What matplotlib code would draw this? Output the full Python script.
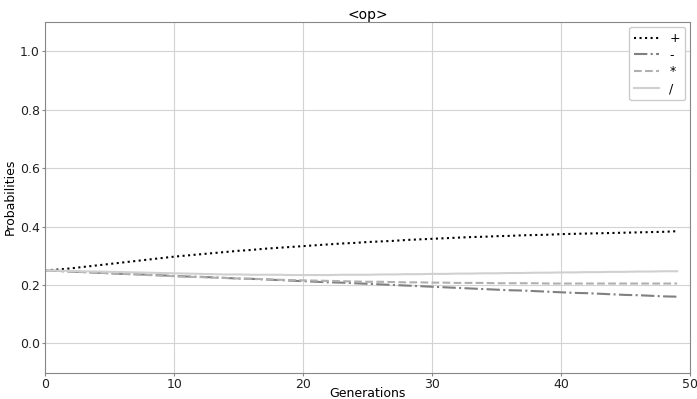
import matplotlib
matplotlib.use("Agg")
import matplotlib.pyplot as plt

generations = list(range(50))
plus = [0.250, 0.253, 0.257, 0.262, 0.267, 0.272, 0.277, 0.282, 0.287, 0.292,
        0.297, 0.301, 0.305, 0.309, 0.313, 0.317, 0.320, 0.324, 0.327, 0.330,
        0.333, 0.336, 0.339, 0.342, 0.344, 0.347, 0.349, 0.351, 0.354, 0.356,
        0.358, 0.360, 0.362, 0.364, 0.365, 0.367, 0.368, 0.370, 0.371, 0.372,
        0.374, 0.375, 0.376, 0.377, 0.378, 0.379, 0.380, 0.381, 0.382, 0.384]
minus = [0.250, 0.248, 0.246, 0.244, 0.242, 0.240, 0.238, 0.237, 0.235, 0.233,
         0.231, 0.229, 0.228, 0.226, 0.224, 0.222, 0.221, 0.219, 0.217, 0.215,
         0.213, 0.211, 0.209, 0.208, 0.206, 0.204, 0.202, 0.200, 0.198, 0.196,
         0.194, 0.192, 0.190, 0.188, 0.186, 0.184, 0.182, 0.181, 0.179, 0.177,
         0.175, 0.173, 0.172, 0.170, 0.168, 0.166, 0.165, 0.163, 0.161, 0.160]
times = [0.250, 0.248, 0.246, 0.244, 0.242, 0.240, 0.238, 0.236, 0.234, 0.232,
         0.230, 0.228, 0.227, 0.225, 0.224, 0.222, 0.221, 0.220, 0.218, 0.217,
         0.216, 0.215, 0.214, 0.213, 0.212, 0.211, 0.211, 0.210, 0.209, 0.209,
         0.208, 0.208, 0.207, 0.207, 0.207, 0.206, 0.206, 0.206, 0.206, 0.205,
         0.205, 0.205, 0.205, 0.205, 0.205, 0.205, 0.205, 0.205, 0.205, 0.205]
divide = [0.250, 0.249, 0.248, 0.247, 0.246, 0.245, 0.244, 0.243, 0.242, 0.241,
          0.240, 0.239, 0.238, 0.237, 0.236, 0.236, 0.235, 0.235, 0.235, 0.234,
          0.234, 0.234, 0.234, 0.235, 0.235, 0.235, 0.236, 0.236, 0.237, 0.237,
          0.238, 0.238, 0.239, 0.239, 0.240, 0.240, 0.241, 0.241, 0.242, 0.242,
          0.243, 0.243, 0.244, 0.244, 0.245, 0.245, 0.246, 0.246, 0.247, 0.247]

fig, ax = plt.subplots(figsize=(6.97, 3.99), dpi=100)
ax.plot(generations, plus, color="black", linestyle=":", linewidth=1.5, label="+")
ax.plot(generations, minus, color="#808080", linestyle="-.", linewidth=1.5, label="-")
ax.plot(generations, times, color="#b0b0b0", linestyle="--", linewidth=1.5, label="*")
ax.plot(generations, divide, color="#d0d0d0", linestyle="-", linewidth=1.5, label="/")

ax.set_xlim(0, 50)
ax.set_ylim(-0.1, 1.1)
ax.set_yticks([0.0, 0.2, 0.4, 0.6, 0.8, 1.0])
ax.grid(True, color="#d3d3d3", linewidth=0.8)
ax.set_axisbelow(True)
for s in ax.spines.values():
    s.set_color("#888888")
ax.tick_params(axis="both", labelsize=9, colors="#222222", length=2, pad=2)
ax.tick_params(axis="both", color="#888888")
ax.set_title("<op>", fontsize=10, pad=2)
ax.set_xlabel("Generations", fontsize=9, labelpad=-3)
ax.set_ylabel("Probabilities", fontsize=9, labelpad=2)
ax.legend(loc="upper right", fontsize=9, framealpha=1, labelspacing=0.3,
          borderaxespad=0.4)

plt.subplots_adjust(left=0.065, right=0.99, top=0.945, bottom=0.066)
plt.savefig("out.png")
